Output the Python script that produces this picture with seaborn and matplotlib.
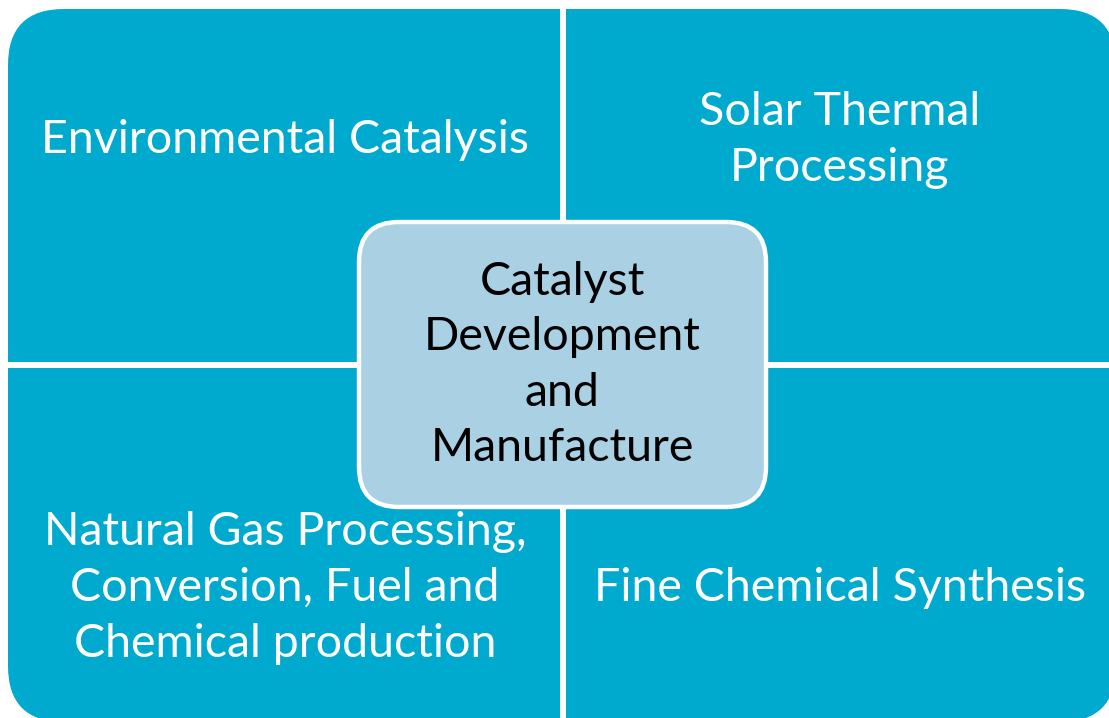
"""Matrix diagram: catalyst development and its four application areas."""
import matplotlib

matplotlib.use("Agg")
import seaborn as sns
from matplotlib import pyplot as plt
from matplotlib.patches import FancyBboxPatch, Rectangle

# quadrant labels: top-left, top-right, bottom-left, bottom-right
QUADRANT_LABELS = [
    "Environmental Catalysis",
    "Solar Thermal\nProcessing",
    "Natural Gas Processing,\nConversion, Fuel and\nChemical production",
    "Fine Chemical Synthesis",
]
QUADRANT_COLS = [0, 1, 0, 1]
QUADRANT_ROWS = [0, 0, 1, 1]
CENTER_LABEL = "Catalyst\nDevelopment\nand\nManufacture"

BLUE = "#00AACF"
LIGHT = "#AAD0E3"

W, H = 1109, 718


def main() -> None:
    sns.set_theme(style="white")
    plt.rcParams["font.family"] = ["Lato", "DejaVu Sans"]

    fig = plt.figure(figsize=(W / 100, H / 100), dpi=100)
    ax = fig.add_axes([0, 0, 1, 1])
    ax.set_xlim(0, W)
    ax.set_ylim(H, 0)
    ax.axis("off")

    # outer block, split into quadrants by white gaps
    left, top, right, bottom = 8, 9, 1116, 722
    ax.add_patch(FancyBboxPatch((left, top), right - left, bottom - top,
                                boxstyle="round,pad=0,rounding_size=56",
                                fc=BLUE, ec="none"))
    split_x, split_y = 563, 365
    ax.add_patch(Rectangle((split_x - 3, 0), 6, H, fc="white", ec="none"))
    ax.add_patch(Rectangle((0, split_y - 3), W, 6, fc="white", ec="none"))

    col_centers = [285, 840]
    row_centers = [140, 588]
    for label, c, r in zip(QUADRANT_LABELS, QUADRANT_COLS, QUADRANT_ROWS):
        ax.text(col_centers[c], row_centers[r], label, color="white",
                fontsize=33.5, ha="center", va="center", linespacing=1.4)

    # centre box
    ax.add_patch(FancyBboxPatch((359, 222), 407, 285,
                                boxstyle="round,pad=0,rounding_size=40",
                                fc=LIGHT, ec="white", lw=3.2))
    ax.text(562, 365, CENTER_LABEL, color="black", fontsize=33.5,
            ha="center", va="center", linespacing=1.4)

    fig.savefig("out.png", dpi=100)
    plt.close(fig)


if __name__ == "__main__":
    main()
